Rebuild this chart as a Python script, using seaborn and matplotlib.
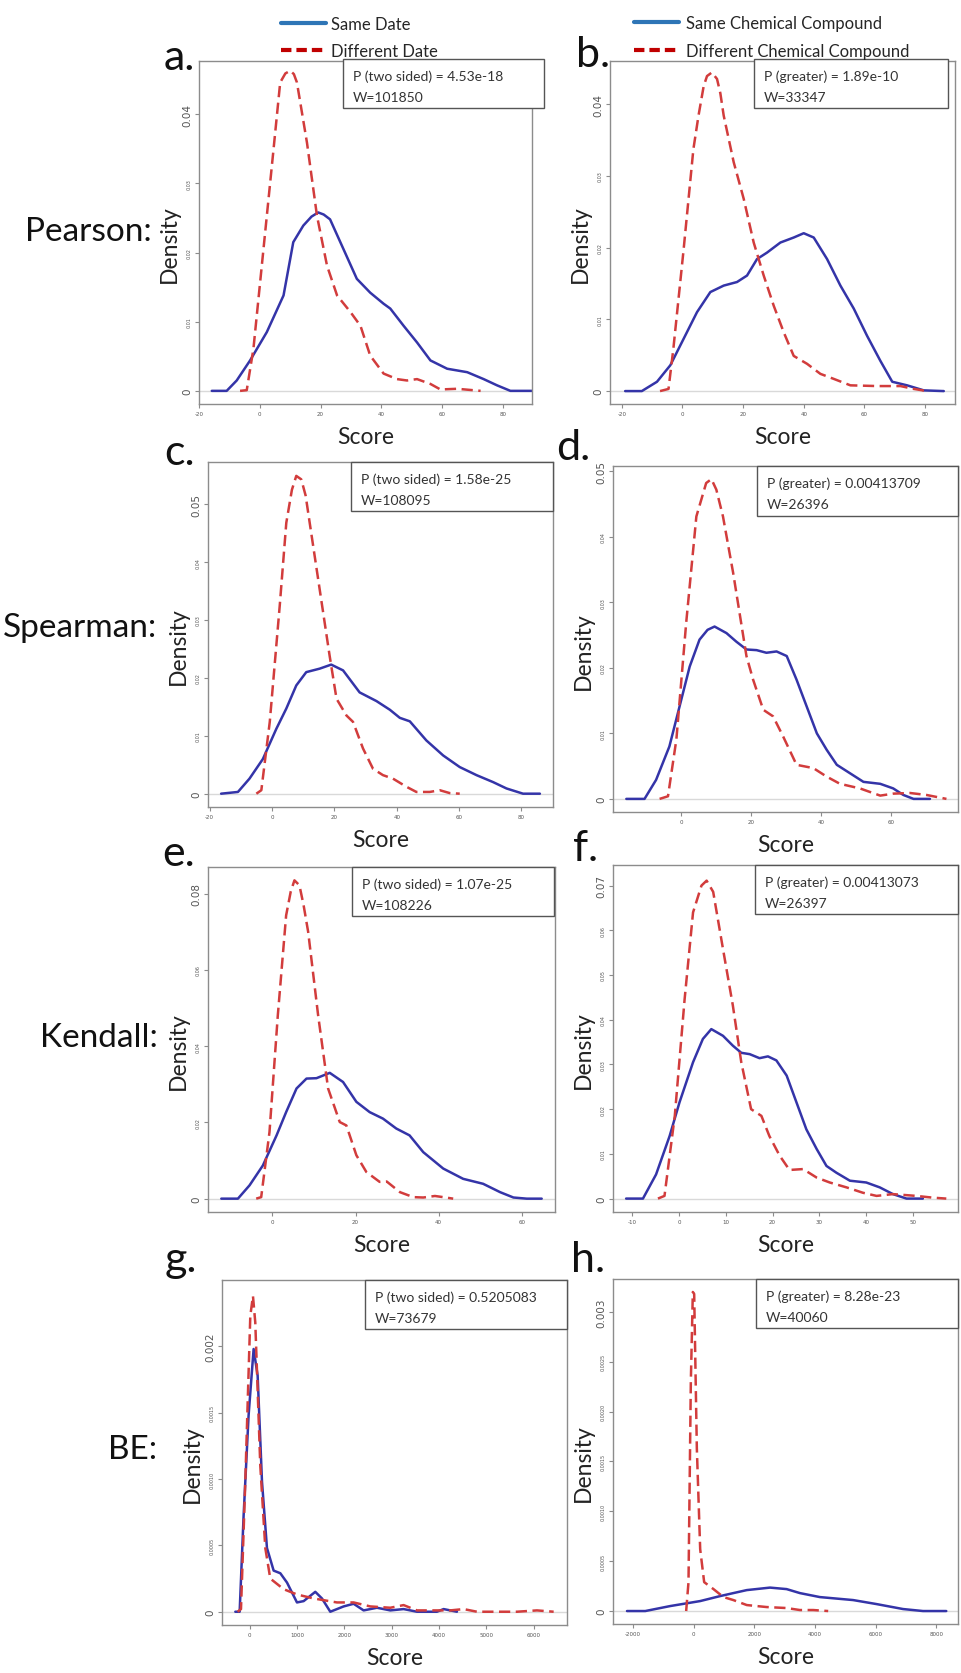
import numpy as np
import pandas as pd
import matplotlib
matplotlib.use("Agg")
import matplotlib.pyplot as plt
from matplotlib.lines import Line2D
from matplotlib.patches import Rectangle
import seaborn as sns

sns.set_style("white")
plt.rcParams['font.family'] = ['Lato', 'DejaVu Sans']

# ---------------- data ----------------
a_same_x = [-15.8, -10.9, -7.6, -3.2, 2.3, 7.8, 11.0, 14.3, 17.0, 19.2, 21.0, 23.1, 27.5, 31.9, 36.3, 40.7, 42.9, 47.3, 51.7, 56.1, 61.6, 68.2, 73.6, 78.0, 82.4, 89.5]
a_same_y = [0, 0, 0.0015, 0.0044, 0.0085, 0.0138, 0.0215, 0.0239, 0.0252, 0.0258, 0.0255, 0.0248, 0.0205, 0.0162, 0.0142, 0.0126, 0.0119, 0.0094, 0.0070, 0.0044, 0.0032, 0.0027, 0.0017, 0.0008, 0, 0]
a_diff_x = [-6.5, -4.3, -2.1, 1.2, 4.5, 6.7, 8.4, 10.0, 11.2, 12.2, 15.5, 18.8, 22.1, 25.4, 29.8, 33.1, 36.3, 40.7, 45.1, 48.4, 51.7, 56.1, 59.4, 64.9, 72.6]
a_diff_y = [0, 0.0001, 0.0061, 0.0205, 0.0349, 0.0446, 0.0459, 0.0463, 0.0458, 0.0446, 0.0359, 0.0253, 0.0181, 0.0138, 0.0114, 0.0094, 0.0051, 0.0025, 0.0017, 0.0015, 0.0017, 0.0010, 0.0002, 0.0003, 0]

b_same_x = [-18.9, -13.4, -8.4, -4.0, 0.4, 4.8, 9.2, 13.6, 18.0, 21.3, 24.6, 27.9, 32.3, 36.7, 40.0, 43.3, 47.7, 52.1, 56.5, 60.9, 65.3, 69.2, 74.1, 79.6, 86.2]
b_same_y = [0, 0, 0.0013, 0.0036, 0.0073, 0.0110, 0.0138, 0.0147, 0.0152, 0.0161, 0.0184, 0.0193, 0.0207, 0.0214, 0.0220, 0.0214, 0.0184, 0.0147, 0.0115, 0.0077, 0.0042, 0.0013, 0.0008, 0.0001, 0]
b_diff_x = [-7.4, -4.6, -3.0, 0.4, 3.6, 5.3, 7.0, 8.1, 9.7, 11.4, 12.5, 13.6, 16.9, 20.2, 23.5, 26.8, 30.1, 33.4, 36.7, 41.1, 45.5, 49.9, 55.4, 64.2, 71.9, 76.3, 80.7]
b_diff_y = [0, 0.0003, 0.0059, 0.0198, 0.0337, 0.0384, 0.0425, 0.0439, 0.0444, 0.0435, 0.0415, 0.0384, 0.0319, 0.0268, 0.0207, 0.0161, 0.0119, 0.0082, 0.0049, 0.0038, 0.0024, 0.0017, 0.0008, 0.0007, 0.0007, 0.0003, 0]

c_same_x = [-16.3, -10.9, -7.2, -2.9, 1.4, 4.6, 7.8, 11.0, 15.3, 19.0, 22.8, 28.1, 33.5, 37.8, 41.0, 44.2, 49.5, 54.9, 60.2, 65.6, 70.9, 75.2, 80.5, 85.9]
c_same_y = [0, 0.0003, 0.0026, 0.0060, 0.0112, 0.0147, 0.0187, 0.0210, 0.0216, 0.0223, 0.0213, 0.0175, 0.0160, 0.0145, 0.0131, 0.0125, 0.0092, 0.0066, 0.0046, 0.0032, 0.0020, 0.0009, 0, 0]
c_diff_x = [-5.0, -3.4, -0.7, 2.5, 4.6, 6.4, 7.8, 9.4, 10.8, 12.1, 15.3, 18.5, 20.7, 23.9, 26.0, 29.2, 32.4, 35.6, 38.8, 43.1, 46.3, 50.6, 53.8, 57.0, 60.2]
c_diff_y = [0, 0.0006, 0.0124, 0.0325, 0.0468, 0.0525, 0.0549, 0.0543, 0.0515, 0.0468, 0.0353, 0.0238, 0.0164, 0.0135, 0.0124, 0.0078, 0.0043, 0.0032, 0.0026, 0.0012, 0.0003, 0.0003, 0.0006, 0.0001, 0]

d_same_x = [-15.7, -10.5, -7.2, -3.4, -0.5, 2.4, 5.2, 7.5, 9.5, 12.9, 15.7, 18.6, 21.5, 24.3, 27.2, 30.1, 32.9, 35.8, 38.7, 41.5, 44.4, 48.2, 52.0, 56.8, 60.5, 63.4, 66.3, 71.0]
d_same_y = [0, 0, 0.0029, 0.0080, 0.0141, 0.0202, 0.0243, 0.0258, 0.0263, 0.0253, 0.0240, 0.0228, 0.0227, 0.0223, 0.0225, 0.0218, 0.0182, 0.0141, 0.0100, 0.0075, 0.0052, 0.0039, 0.0026, 0.0023, 0.0016, 0.0006, 0, 0]
d_diff_x = [-6.2, -3.8, -1.4, 1.4, 4.3, 7.1, 8.6, 10.0, 11.9, 14.8, 18.6, 20.5, 23.4, 26.2, 29.1, 32.9, 37.7, 41.5, 45.3, 51.0, 56.8, 60.5, 65.3, 70.0, 75.7]
d_diff_y = [0, 0.0004, 0.0091, 0.0269, 0.0431, 0.0482, 0.0488, 0.0472, 0.0431, 0.0345, 0.0218, 0.0182, 0.0136, 0.0126, 0.0095, 0.0052, 0.0047, 0.0034, 0.0023, 0.0016, 0.0005, 0.0008, 0.0009, 0.0006, 0]

e_same_x = [-12.3, -8.3, -5.5, -2.3, 1.0, 3.3, 5.8, 8.2, 10.6, 13.8, 17.0, 20.2, 23.4, 26.6, 29.8, 33.0, 36.3, 41.1, 45.9, 50.7, 54.8, 58.0, 61.2, 64.8]
e_same_y = [0, 0, 0.0035, 0.0087, 0.0166, 0.0227, 0.0289, 0.0315, 0.0316, 0.0330, 0.0306, 0.0254, 0.0227, 0.0210, 0.0184, 0.0166, 0.0122, 0.0079, 0.0052, 0.0039, 0.0017, 0.0003, 0, 0]
e_diff_x = [-3.9, -2.7, -0.7, 1.3, 3.3, 4.4, 5.3, 6.5, 7.5, 8.6, 11.0, 13.4, 16.2, 17.8, 20.2, 22.6, 25.8, 27.5, 30.7, 33.9, 36.3, 39.1, 41.1, 43.5]
e_diff_y = [0, 0.0004, 0.0175, 0.0481, 0.0743, 0.0805, 0.0835, 0.0822, 0.0770, 0.0700, 0.0481, 0.0289, 0.0201, 0.0192, 0.0114, 0.0070, 0.0044, 0.0045, 0.0017, 0.0004, 0.0003, 0.0007, 0.0004, 0]

f_same_x = [-11.3, -7.7, -4.9, -2.0, 0.1, 3.0, 5.1, 6.9, 9.4, 11.5, 13.3, 15.1, 17.2, 19.0, 20.8, 23.0, 25.1, 27.2, 29.4, 31.5, 33.6, 36.5, 40.0, 42.9, 45.7, 48.6, 52.1]
f_same_y = [0, 0, 0.0054, 0.0140, 0.0215, 0.0305, 0.0357, 0.0379, 0.0364, 0.0342, 0.0326, 0.0323, 0.0314, 0.0318, 0.0309, 0.0275, 0.0215, 0.0155, 0.0111, 0.0073, 0.0058, 0.0040, 0.0036, 0.0025, 0.0010, 0, 0]
f_diff_x = [-4.5, -3.1, -0.9, 1.2, 3.0, 4.8, 5.9, 7.3, 9.4, 11.5, 13.3, 15.4, 17.6, 19.3, 21.5, 23.6, 26.5, 29.4, 32.2, 35.8, 39.3, 42.2, 45.7, 50.7, 54.3, 57.1]
f_diff_y = [0, 0.0006, 0.0185, 0.0446, 0.0640, 0.0700, 0.0711, 0.0686, 0.0558, 0.0432, 0.0305, 0.0200, 0.0185, 0.0140, 0.0096, 0.0064, 0.0066, 0.0047, 0.0036, 0.0025, 0.0013, 0.0006, 0.0010, 0.0006, 0.0002, 0]

g_same_x = [-302, -210, -127, -21, 85, 170, 262, 367, 508, 649, 790, 1001, 1142, 1388, 1529, 1705, 1987, 2198, 2409, 2691, 2973, 3254, 3536, 3958, 4099, 4381]
g_same_y = [0, 0, 0.00072, 0.00148, 0.00198, 0.00178, 0.00098, 0.00048, 0.00031, 0.00029, 0.00022, 0.00007, 0.00008, 0.00015, 0.00010, 0, 0.00004, 0.00006, 0.00001, 0.00003, 0.00001, 0.00002, 0, 0, 0.00002, 0]
g_diff_x = [-253, -182, -91, 15, 71, 120, 226, 332, 437, 719, 1001, 1353, 1846, 2198, 2550, 2973, 3254, 3536, 4240, 4522, 4804, 5649, 6071, 6424]
g_diff_y = [0, 0.00002, 0.00098, 0.00223, 0.00238, 0.00218, 0.00110, 0.00048, 0.00025, 0.00017, 0.00013, 0.00010, 0.00007, 0.00007, 0.00004, 0.00003, 0.00005, 0.00001, 0.00001, 0.00002, 0, 0, 0.00001, 0]

h_same_x = [-2197, -1595, -772, 215, 873, 1309, 1750, 2516, 3063, 3501, 4159, 5255, 6023, 6900, 7558, 8325]
h_same_y = [0, 0, 0.00005, 0.00010, 0.00015, 0.00018, 0.00021, 0.000235, 0.00022, 0.00018, 0.00014, 0.00011, 0.00007, 0.00002, 0, 0]
h_diff_x = [-247, -170, -93, -27, 17, 105, 215, 346, 653, 982, 1309, 1750, 2405, 3063, 3501, 3940, 4433]
h_diff_y = [0, 0.00029, 0.0023, 0.0032, 0.00318, 0.00163, 0.00062, 0.00029, 0.00022, 0.00014, 0.00011, 0.00006, 0.00004, 0.00003, 0.00001, 0.00001, 0]

panel_letters = ["a.", "b.", "c.", "d.", "e.", "f.", "g.", "h."]
row_labels = ["Pearson:", "Spearman:", "Kendall:", "BE:"]
legend_left = ["Same Date", "Different Date"]
legend_right = ["Same Chemical Compound", "Different Chemical Compound"]
p_texts = ["P (two sided) = 4.53e-18", "P (greater) = 1.89e-10",
           "P (two sided) = 1.58e-25", "P (greater) = 0.00413709",
           "P (two sided) = 1.07e-25", "P (greater) = 0.00413073",
           "P (two sided) = 0.5205083", "P (greater) = 8.28e-23"]
w_texts = ["W=101850", "W=33347", "W=108095", "W=26396",
           "W=108226", "W=26397", "W=73679", "W=40060"]

xticks_list = [[-20, 0, 20, 40, 60, 80], [-20, 0, 20, 40, 60, 80],
               [-20, 0, 20, 40, 60, 80], [0, 20, 40, 60],
               [0, 20, 40, 60], [-10, 0, 10, 20, 30, 40, 50],
               [0, 1000, 2000, 3000, 4000, 5000, 6000],
               [-2000, 0, 2000, 4000, 6000, 8000]]
yticks_list = [[0, 0.01, 0.02, 0.03, 0.04], [0, 0.01, 0.02, 0.03, 0.04],
               [0, 0.01, 0.02, 0.03, 0.04, 0.05], [0, 0.01, 0.02, 0.03, 0.04, 0.05],
               [0, 0.02, 0.04, 0.06, 0.08], [0, 0.01, 0.02, 0.03, 0.04, 0.05, 0.06, 0.07],
               [0, 0.0005, 0.0010, 0.0015, 0.002],
               [0, 0.0005, 0.0010, 0.0015, 0.0020, 0.0025, 0.003]]
ylabels_list = [["0", "0.01", "0.02", "0.03", "0.04"], ["0", "0.01", "0.02", "0.03", "0.04"],
                ["0", "0.01", "0.02", "0.03", "0.04", "0.05"], ["0", "0.01", "0.02", "0.03", "0.04", "0.05"],
                ["0", "0.02", "0.04", "0.06", "0.08"], ["0", "0.01", "0.02", "0.03", "0.04", "0.05", "0.06", "0.07"],
                ["0", "0.0005", "0.0010", "0.0015", "0.002"],
                ["0", "0.0005", "0.0010", "0.0015", "0.0020", "0.0025", "0.003"]]

series = [(a_same_x, a_same_y, a_diff_x, a_diff_y), (b_same_x, b_same_y, b_diff_x, b_diff_y),
          (c_same_x, c_same_y, c_diff_x, c_diff_y), (d_same_x, d_same_y, d_diff_x, d_diff_y),
          (e_same_x, e_same_y, e_diff_x, e_diff_y), (f_same_x, f_same_y, f_diff_x, f_diff_y),
          (g_same_x, g_same_y, g_diff_x, g_diff_y), (h_same_x, h_same_y, h_diff_x, h_diff_y)]

# ---------------- layout (pixels) ----------------
W, H = 961, 1674
boxes = [(199, 62, 532, 405), (610, 62, 955, 405),
         (208, 463, 553, 808), (613, 467, 958, 813),
         (208, 868, 555, 1213), (613, 866, 958, 1213),
         (222, 1281, 567, 1626), (613, 1280, 958, 1625)]
xlims = [(-20, 89.5), (-23.9, 89.9), (-20.5, 90.1), (-19.5, 79.0),
         (-15.5, 68.0), (-14.1, 59.6), (-583, 6706), (-2658, 8711)]
ylims = [(-0.0019, 0.0477), (-0.0018, 0.046), (-0.0023, 0.0573), (-0.002, 0.0508),
         (-0.0035, 0.087), (-0.003, 0.0746), (-0.0001, 0.0025), (-0.00013, 0.00333)]
pboxes = [(343, 60, 544, 109), (754, 60, 948, 109), (351, 463, 553, 512), (757, 467, 958, 517),
          (352, 868, 554, 917), (755, 866, 958, 915), (365, 1281, 567, 1330), (756, 1280, 958, 1329)]
letter_pos = [(195, 70), (610, 67), (195, 465), (590, 460), (195, 866), (598, 861), (197, 1272), (605, 1272)]
row_pos = [(152, 232), (157, 628), (158, 1038), (157, 1450)]

BLUE = "#3434a8"
RED = "#d23c3c"
GRAY = "#8c8c8c"

def fx(px):
    return px / W

def fy(py):
    return 1 - py / H

fig = plt.figure(figsize=(W / 100, H / 100), dpi=100)
fig.patch.set_facecolor("white")

for i in range(8):
    l, t, r, b = boxes[i]
    ax = fig.add_axes([fx(l), fy(b), (r - l) / W, (b - t) / H])
    sx, sy, dx, dy = series[i]
    df_s = pd.DataFrame({"Score": sx, "Density": sy})
    df_d = pd.DataFrame({"Score": dx, "Density": dy})
    ax.axhline(0, color="#d9d9d9", lw=1.0, zorder=0)
    sns.lineplot(data=df_s, x="Score", y="Density", ax=ax, color=BLUE, lw=1.8,
                 estimator=None, sort=False)
    sns.lineplot(data=df_d, x="Score", y="Density", ax=ax, color=RED, lw=1.8,
                 estimator=None, sort=False)
    ax.lines[-1].set_dashes((4.5, 2.2))
    for ln in ax.lines[1:]:
        ln.set_solid_joinstyle("round")
        ln.set_dash_joinstyle("round")
    ax.set_xlim(*xlims[i])
    ax.set_ylim(*ylims[i])
    ax.set_xlabel("")
    ax.set_ylabel("")
    for sp in ax.spines.values():
        sp.set_color(GRAY)
        sp.set_linewidth(1.0)
    ax.set_xticks(xticks_list[i])
    ax.set_xticklabels([str(v) for v in xticks_list[i]], fontsize=4, color="#555555",
                       family="DejaVu Sans")
    ax.set_yticks(yticks_list[i])
    ax.set_yticklabels(ylabels_list[i], rotation=90, va="center", color="#555555",
                       family="DejaVu Sans")
    labs = ax.get_yticklabels()
    for k, lab in enumerate(labs):
        big = (k == 0 or k == len(labs) - 1)
        lab.set_fontsize(7.5 if big else 3.5)
    ax.tick_params(axis="both", direction="out", length=3, width=0.8, color=GRAY,
                   pad=2, left=True, bottom=True)
    # axis titles
    ax.annotate("Score", xy=(0.5, 0), xycoords="axes fraction", xytext=(0, -33 * 0.72),
                textcoords="offset points", ha="center", va="center", fontsize=16.5, color="#222222")
    ax.annotate("Density", xy=(0, 0.5), xycoords="axes fraction", xytext=(-30 * 0.72, -11 * 0.72),
                textcoords="offset points", ha="center", va="center", rotation=90,
                fontsize=16.5, color="#222222")
    # statistics box
    bl, bt, br, bb = pboxes[i]
    fig.patches.append(Rectangle((fx(bl), fy(bb)), (br - bl) / W, (bb - bt) / H,
                                 transform=fig.transFigure, facecolor="white",
                                 edgecolor="#555555", lw=1.0, zorder=5))
    fig.text(fx(bl + 10), fy(bt + 17), p_texts[i], ha="left", va="center", fontsize=10,
             color="#333333", zorder=6)
    fig.text(fx(bl + 10), fy(bt + 38), w_texts[i], ha="left", va="center", fontsize=10,
             color="#333333", zorder=6)
    # panel letter
    lx, ly = letter_pos[i]
    fig.text(fx(lx), fy(ly), panel_letters[i], ha="right", va="baseline", fontsize=31,
             color="#111111")

for k, (rx, ry) in enumerate(row_pos):
    fig.text(fx(rx), fy(ry), row_labels[k], ha="right", va="center", fontsize=24, color="#111111")

handles = [Line2D([], [], color="#2e75b6", lw=3),
           Line2D([], [], color="#c00000", lw=3, dashes=(2.5, 1.2))]
fig.legend(handles, legend_left, loc="upper left", bbox_to_anchor=(fx(281), fy(17)),
           frameon=False, fontsize=12, handlelength=2.7, handletextpad=0.3,
           labelspacing=0.65, borderpad=0, borderaxespad=0)
fig.legend(handles, legend_right, loc="upper left", bbox_to_anchor=(fx(634), fy(16)),
           frameon=False, fontsize=12, handlelength=2.7, handletextpad=0.4,
           labelspacing=0.7, borderpad=0, borderaxespad=0)

fig.savefig("out.png", dpi=100, facecolor="white")
